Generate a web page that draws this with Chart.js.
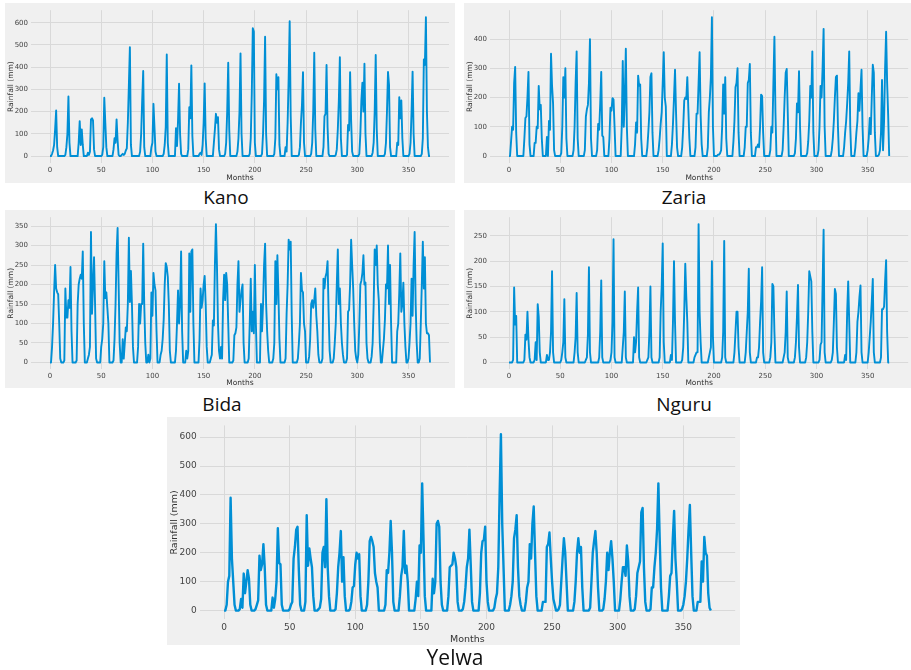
<!DOCTYPE html>
<html>
<head>
<meta charset="utf-8">
<script src="https://cdn.jsdelivr.net/npm/chart.js@4.4.1/dist/chart.umd.min.js"></script>
<style>
    body { margin: 0; width: 911px; height: 670px; background: #ffffff; position: relative; overflow: hidden; }
    canvas { position: absolute; background: #f0f0f0; }
    .nome { position: absolute; font-family: 'Open Sans', Lato, sans-serif; font-size: 19px; line-height: 20px; color: #111; transform: translateX(-50%); white-space: nowrap; }
</style>
</head>
<body>
<canvas id="graficoKano" width="450" height="180" style="left:5px;top:3px"></canvas>
<canvas id="graficoZaria" width="447" height="180" style="left:464px;top:3px"></canvas>
<canvas id="graficoBida" width="450" height="178" style="left:5px;top:210px"></canvas>
<canvas id="graficoNguru" width="447" height="178" style="left:464px;top:210px"></canvas>
<canvas id="graficoYelwa" width="573" height="228" style="left:167px;top:417px"></canvas>

<div class="nome" style="left:226px;top:187px">Kano</div>
<div class="nome" style="left:684px;top:187px">Zaria</div>
<div class="nome" style="left:222px;top:394px">Bida</div>
<div class="nome" style="left:684px;top:394px">Nguru</div>
<div class="nome" style="left:455px;top:647px;font-size:21px">Yelwa</div>

<script>
// chuva mensal (mm), uma linha por ano, 31 anos = 372 meses
const kanoChuva = [
    [0,0,10,25,50,120,205,40,0,0,0,0],
    [0,0,0,5,40,100,268,60,0,0,0,0],
    [0,0,0,0,60,157,50,120,50,0,0,0],
    [0,15,5,20,165,170,160,30,0,0,0,0],
    [0,0,0,5,40,262,150,40,0,0,0,0],
    [0,0,30,80,60,165,70,5,0,0,5,10],
    [5,10,25,35,150,320,490,50,0,0,0,0],
    [0,0,0,0,20,100,250,383,40,0,0,0],
    [0,0,0,40,60,235,130,20,0,0,0,0],
    [0,0,0,10,50,130,457,60,0,0,0,0],
    [0,0,0,125,45,160,325,100,10,0,0,0],
    [0,0,0,30,220,170,408,90,0,0,0,0],
    [0,0,10,15,5,50,150,327,80,0,0,0],
    [0,0,0,0,60,120,190,150,175,30,0,0],
    [0,0,0,10,60,200,420,120,0,0,0,0],
    [0,0,0,20,80,200,462,100,0,0,0,0],
    [0,0,0,10,80,280,575,560,60,0,0,0],
    [0,0,0,10,100,250,537,100,0,0,0,0],
    [0,0,0,10,80,368,300,355,50,0,0,0],
    [0,0,40,20,150,350,607,180,0,0,0,0],
    [0,0,0,5,40,150,230,377,60,0,0,0],
    [0,0,0,10,60,200,465,120,0,0,0,0],
    [0,0,0,40,180,190,410,130,10,0,0,0],
    [0,0,0,5,30,120,250,445,80,0,0,0],
    [0,0,5,140,115,377,160,20,0,0,0,0],
    [0,0,10,100,250,330,200,415,100,0,0,0],
    [0,0,0,15,60,200,455,120,0,0,0,0],
    [0,0,0,10,60,200,378,320,40,0,0,0],
    [0,0,0,60,50,265,170,250,80,0,0,0],
    [0,0,0,10,60,200,380,100,0,0,0,0],
    [0,0,0,10,80,435,410,625,200,40,0,0]
].flat()

const zariaChuva = [
    [0,0,50,100,90,250,305,80,0,0,0,0],
    [0,0,0,60,130,135,200,288,40,0,0,0],
    [0,45,45,100,95,240,160,175,60,0,0,0],
    [0,65,0,120,90,350,240,180,20,0,0,0],
    [0,0,0,10,100,270,200,300,60,0,0,0],
    [0,0,0,20,100,250,358,60,0,0,0,0],
    [0,0,20,135,160,175,250,400,60,0,0,0],
    [0,0,20,110,90,180,288,70,65,0,0,0],
    [0,0,60,165,155,198,193,100,0,0,0,0],
    [0,0,100,325,100,200,367,100,0,0,0,0],
    [0,0,0,40,115,80,275,240,245,60,0,0],
    [0,0,0,30,85,150,270,283,80,0,0,0],
    [0,0,20,60,110,150,250,355,200,170,0,0],
    [0,0,0,40,110,200,295,150,30,0,0,0],
    [0,30,100,190,200,195,270,160,60,0,0,0],
    [0,0,30,145,145,250,355,140,40,0,0,0],
    [0,0,30,150,200,270,475,100,0,0,0,0],
    [5,5,10,20,100,245,145,270,60,0,0,0],
    [0,0,0,50,120,235,250,300,80,0,0,0],
    [0,0,30,100,100,250,260,315,80,0,0,0],
    [0,30,30,40,30,100,210,205,80,0,0,0],
    [0,0,0,20,100,80,250,408,150,0,0,0],
    [0,0,0,20,100,200,285,298,150,0,0,0],
    [0,0,0,10,60,180,150,290,100,0,0,0],
    [0,0,0,10,50,120,240,200,358,80,0,0],
    [0,0,20,100,240,200,300,435,100,0,0,0],
    [0,0,0,20,60,120,200,270,275,100,0,0],
    [0,0,0,30,80,120,180,250,358,100,0,0],
    [0,0,30,80,120,215,155,230,295,100,0,0],
    [0,0,20,60,130,75,200,312,285,80,0,0],
    [0,5,20,80,260,20,120,300,425,250,140,0]
].flat()

const bidaChuva = [
    [0,0,40,100,180,250,190,180,175,100,10,0],
    [0,0,5,190,115,115,160,140,245,80,0,0],
    [0,0,5,150,200,215,225,215,285,100,0,0],
    [0,10,20,40,335,125,200,270,150,10,0,0],
    [0,0,40,60,100,260,165,180,140,100,0,0],
    [0,0,5,60,150,280,345,200,50,0,0,60],
    [10,50,90,80,150,320,155,235,150,40,0,0],
    [0,0,40,150,100,150,150,305,150,50,0,0],
    [20,0,10,180,120,230,200,185,80,0,0,0],
    [20,30,60,110,200,255,245,220,150,30,0,0],
    [0,0,0,30,100,185,100,150,285,80,0,0],
    [0,30,10,30,280,130,285,290,100,0,0,0],
    [0,0,60,190,140,160,200,222,150,40,0,0],
    [0,10,20,108,95,250,355,250,100,30,10,40],
    [10,160,225,160,230,200,100,0,0,0,0,5],
    [70,75,90,200,260,130,160,185,200,50,0,0],
    [0,0,10,100,215,80,130,75,250,100,0,0],
    [0,0,150,80,150,250,305,150,80,30,0,0],
    [0,0,10,50,260,150,275,180,60,0,0,0],
    [0,0,10,125,200,315,290,310,120,0,0,0],
    [0,0,10,50,100,230,185,180,100,80,0,0],
    [0,15,60,150,160,140,160,190,120,80,20,0],
    [0,0,10,215,190,220,230,260,130,30,0,0],
    [0,10,50,100,200,290,150,190,100,50,20,0],
    [0,0,10,130,135,200,315,250,190,100,30,10],
    [0,20,100,200,210,230,275,200,205,50,10,0],
    [0,0,15,50,150,290,250,300,200,160,50,0],
    [0,30,60,110,200,190,300,150,250,100,0,0],
    [0,0,0,80,100,180,280,130,150,205,100,40],
    [0,0,10,50,100,215,120,250,335,150,50,0],
    [0,10,100,200,310,190,270,100,75,75,70,0]
].flat()

const nguruChuva = [
    [0,0,0,0,5,148,75,92,0,0,0,0],
    [0,0,0,5,55,45,100,45,10,0,0,0],
    [0,5,40,5,115,90,20,0,0,0,0,0],
    [0,15,5,5,20,60,180,20,0,0,0,0],
    [0,0,0,5,20,40,125,10,0,0,0,0],
    [0,0,0,0,20,50,137,20,0,0,0,0],
    [0,0,0,5,10,55,188,20,0,0,0,0],
    [0,0,0,0,10,60,162,10,0,0,0,0],
    [0,0,0,5,20,80,243,10,0,0,0,0],
    [0,0,0,30,60,140,10,0,0,0,0,0],
    [0,0,50,20,40,100,148,10,0,0,0,0],
    [0,0,0,5,10,60,150,10,0,0,0,0],
    [0,0,0,10,100,150,235,40,0,0,0,0],
    [0,0,15,5,80,200,80,0,0,0,0,0],
    [0,5,30,100,195,130,80,0,0,0,0,0],
    [0,10,15,20,20,273,100,40,0,0,0,0],
    [0,0,0,10,20,30,200,50,0,0,0,0],
    [0,0,0,0,10,60,240,10,0,0,0,0],
    [0,0,0,0,20,60,100,100,30,0,0,0],
    [0,0,0,20,60,100,185,20,0,0,0,0],
    [0,0,10,10,30,80,120,188,20,0,0,0],
    [0,0,0,10,40,155,150,60,0,0,0,0],
    [0,0,0,0,10,20,60,140,10,0,0,0],
    [0,0,0,10,40,90,153,30,0,0,0,0],
    [0,0,10,40,100,180,170,160,60,0,0,0],
    [0,0,0,5,35,40,150,262,20,0,0,0],
    [0,0,0,5,20,80,145,135,30,0,0,0],
    [0,0,0,0,15,5,100,160,80,0,0,0],
    [0,0,0,20,80,100,130,152,20,0,0,0],
    [0,0,0,20,50,80,120,165,20,0,0,0],
    [0,0,0,10,105,105,110,160,202,60,0,0]
].flat()

const yelwaChuva = [
    [0,0,20,100,120,390,180,100,20,0,0,0],
    [5,40,10,128,60,100,140,110,20,0,0,0],
    [5,20,35,190,140,160,230,150,20,0,0,0],
    [0,45,10,40,100,285,165,160,20,0,0,0],
    [0,0,5,20,30,180,220,280,290,140,20,0],
    [0,0,30,330,155,215,180,150,50,0,0,0],
    [5,10,40,200,220,150,385,150,50,0,0,0],
    [0,5,60,150,200,275,100,185,50,0,0,0],
    [5,30,80,85,160,200,180,195,50,0,0,0],
    [0,20,100,240,255,240,220,130,100,80,0,0],
    [0,0,0,20,140,130,200,310,200,30,0,0],
    [0,0,50,120,150,275,130,155,100,0,0,0],
    [0,0,40,100,50,225,200,440,250,50,0,0],
    [0,0,0,110,60,100,300,310,290,100,20,0],
    [0,0,0,50,150,155,160,200,180,150,30,0],
    [0,0,5,30,80,150,180,280,160,30,0,0],
    [0,0,0,60,200,240,245,290,100,30,0,0],
    [0,0,10,40,60,150,400,610,300,150,0,0],
    [0,0,20,50,100,250,280,330,150,50,20,0],
    [0,0,30,80,100,230,180,300,360,200,50,0],
    [0,0,0,30,30,30,220,230,270,180,100,40],
    [20,0,0,5,20,100,180,250,200,100,0,0],
    [0,0,0,30,100,200,250,200,220,80,0,0],
    [0,0,0,10,100,200,240,275,200,80,0,0],
    [0,5,40,100,200,140,200,240,180,100,0,0],
    [0,0,40,100,150,150,120,225,170,50,0,0],
    [0,5,50,130,150,170,340,355,150,30,0,0],
    [0,5,80,80,150,200,280,440,250,80,0,0],
    [0,0,0,50,120,130,250,345,180,100,0,0],
    [0,5,20,50,100,180,280,365,200,50,0,0],
    [0,30,30,30,170,100,255,200,190,60,10,0]
].flat()

const meses = kanoChuva.map((v, i) => i)
const ticksMeses = [0, 50, 100, 150, 200, 250, 300, 350]
const ticksKano = [0, 100, 200, 300, 400, 500, 600]
const ticksZaria = [0, 100, 200, 300, 400]
const ticksBida = [0, 50, 100, 150, 200, 250, 300, 350]
const ticksNguru = [0, 50, 100, 150, 200, 250]
const ticksYelwa = [0, 100, 200, 300, 400, 500, 600]

function criarGrafico(idCanvas, chuva, ticksY, geo) {
    const pontos = chuva.map((v, i) => ({ x: meses[i], y: v }))
    const ultimo = meses[meses.length - 1]
    const margemX = (ultimo - meses[0]) * 0.05
    const maxY = Math.max(...chuva)
    const margemY = maxY * 0.05
    const fonteTick = { family: 'DejaVu Sans', size: geo.tick }
    const fonteTitulo = { family: 'DejaVu Sans', size: geo.titulo }

    new Chart(document.getElementById(idCanvas), {
        type: 'line',
        data: {
            datasets: [{
                data: pontos,
                borderColor: '#008fd5',
                borderWidth: geo.linha,
                borderJoinStyle: 'round',
                pointRadius: 0,
                tension: 0,
                fill: false
            }]
        },
        options: {
            responsive: false,
            animation: false,
            layout: {
                padding: { left: 0, top: geo.topo, right: geo.direita, bottom: 0 }
            },
            plugins: {
                legend: { display: false },
                tooltip: { enabled: false }
            },
            scales: {
                x: {
                    type: 'linear',
                    min: meses[0] - margemX,
                    max: ultimo + margemX,
                    afterBuildTicks: (eixo) => { eixo.ticks = ticksMeses.map(v => ({ value: v })) },
                    afterFit: (eixo) => { eixo.height = geo.alturaX },
                    grid: { color: '#d9d9d9', lineWidth: 1, drawTicks: false },
                    border: { display: false },
                    ticks: { font: fonteTick, color: '#444', padding: 3, maxRotation: 0, autoSkip: false },
                    title: { display: true, text: 'Months', font: fonteTitulo, color: '#333', padding: { top: 1, bottom: 0 } }
                },
                y: {
                    min: -margemY,
                    max: maxY + margemY,
                    afterBuildTicks: (eixo) => { eixo.ticks = ticksY.map(v => ({ value: v })) },
                    afterFit: (eixo) => { eixo.width = geo.larguraY },
                    grid: { color: '#d9d9d9', lineWidth: 1, drawTicks: false },
                    border: { display: false },
                    ticks: { font: fonteTick, color: '#444', padding: 3, autoSkip: false },
                    title: { display: true, text: 'Rainfall (mm)', font: fonteTitulo, color: '#333', padding: { top: 2, bottom: 0 } }
                }
            }
        }
    })
}

criarGrafico('graficoKano', kanoChuva, ticksKano,
    { topo: 4.6, direita: 6, alturaX: 20, larguraY: 26, tick: 7, titulo: 7.5, linha: 1.9 })
criarGrafico('graficoZaria', zariaChuva, ticksZaria,
    { topo: 3.4, direita: 2.8, alturaX: 20, larguraY: 26, tick: 7, titulo: 7.5, linha: 1.9 })
criarGrafico('graficoBida', bidaChuva, ticksBida,
    { topo: 3.2, direita: 6, alturaX: 18.6, larguraY: 26, tick: 7, titulo: 7.5, linha: 1.9 })
criarGrafico('graficoNguru', nguruChuva, ticksNguru,
    { topo: 2.5, direita: 2.8, alturaX: 18.6, larguraY: 26, tick: 7, titulo: 7.5, linha: 1.9 })
criarGrafico('graficoYelwa', yelwaChuva, ticksYelwa,
    { topo: 2.6, direita: 4.8, alturaX: 25.6, larguraY: 32.7, tick: 9, titulo: 9.5, linha: 2.4 })
</script>
</body>
</html>
